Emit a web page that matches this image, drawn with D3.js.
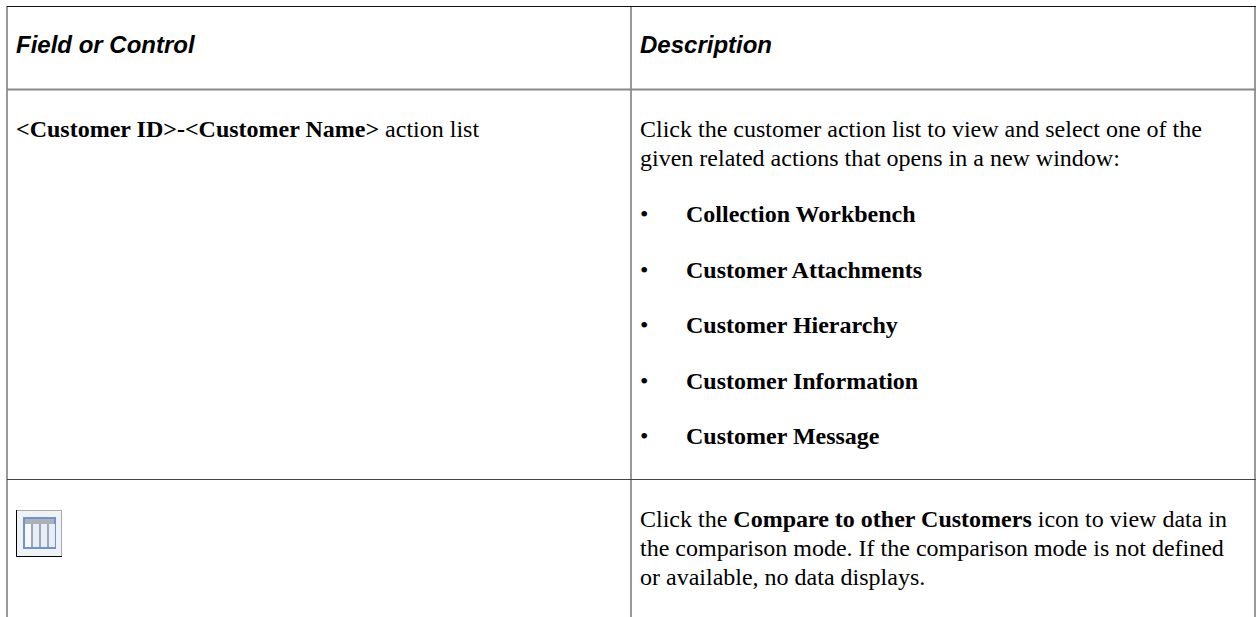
<!DOCTYPE html>
<html>
<head>
<meta charset="utf-8">
<script src="https://cdn.jsdelivr.net/npm/d3@7"></script>
<style>
    html, body { margin: 0; padding: 0; background: #fff; }
    svg { display: block; }
    text { font-family: "Liberation Serif", serif; font-size: 24px; fill: #000; }
    .head { font-family: "Liberation Sans", sans-serif; font-size: 24px; font-weight: bold; font-style: italic; }
</style>
</head>
<body>
<div id="page"></div>
<script>
// each line is a list of [text, bold] runs
const headers = ["Field or Control", "Description"];
const left_lines = [
    [["<Customer ID>-<Customer Name>", true], [" action list", false]]
];
const right_lines_1 = [
    [["Click the customer action list to view and select one of the", false]],
    [["given related actions that opens in a new window:", false]]
];
const bullets = ["Collection Workbench", "Customer Attachments", "Customer Hierarchy", "Customer Information", "Customer Message"];
const right_lines_2 = [
    [["Click the ", false], ["Compare to other Customers", true], [" icon to view data in", false]],
    [["the comparison mode. If the comparison mode is not defined", false]],
    [["or available, no data displays.", false]]
];
const icon_cols = [0, 1, 2, 3];

const svg = d3.select("#page").append("svg")
    .attr("width", 1256)
    .attr("height", 617);

function draw_line(g, runs, x, y) {
    const t = g.append("text").attr("x", x).attr("y", y).attr("xml:space", "preserve");
    runs.forEach(r => {
        t.append("tspan")
            .attr("font-weight", r[1] ? "bold" : "normal")
            .text(r[0]);
    });
}

// table lines
const grid = svg.append("g");
grid.append("rect").attr("x", 6).attr("y", 6).attr("width", 2).attr("height", 611).attr("fill", "#999");
grid.append("rect").attr("x", 630).attr("y", 6).attr("width", 2).attr("height", 611).attr("fill", "#999");
grid.append("rect").attr("x", 1254).attr("y", 6).attr("width", 2).attr("height", 611).attr("fill", "#999");
grid.append("rect").attr("x", 7).attr("y", 6).attr("width", 1249).attr("height", 1).attr("fill", "#111");
grid.append("rect").attr("x", 7).attr("y", 88.5).attr("width", 1249).attr("height", 2).attr("fill", "#888");
grid.append("rect").attr("x", 7).attr("y", 479).attr("width", 1249).attr("height", 1).attr("fill", "#444");

// header
svg.append("g").selectAll("text")
    .data(headers)
    .join("text")
    .attr("class", "head")
    .attr("x", (d, i) => i === 0 ? 16 : 640)
    .attr("y", 53)
    .text(d => d);

const body = svg.append("g");
left_lines.forEach(l => draw_line(body, l, 16, 137));
right_lines_1.forEach((l, i) => draw_line(body, l, 640, 137 + i * 29));

bullets.forEach((b, i) => {
    const y = 222 + i * 55.5;
    body.append("text").attr("x", 640).attr("y", y).text("\u2022");
    body.append("text").attr("x", 686).attr("y", y).attr("font-weight", "bold").text(b);
});

right_lines_2.forEach((l, i) => draw_line(body, l, 640, 527 + i * 29));

// compare icon
const icon = svg.append("g").attr("transform", "translate(16,510)");
icon.append("rect").attr("x", 0.5).attr("y", 0.5).attr("width", 45).attr("height", 46).attr("fill", "#f0f3f6").attr("stroke", "#aaa");
icon.append("path").attr("d", "M0.5 0 V46.5 H46").attr("fill", "none").attr("stroke", "#000");
icon.append("rect").attr("x", 8).attr("y", 8).attr("width", 31).attr("height", 30).attr("fill", "#dfe8f5").attr("stroke", "#6b93d6").attr("stroke-width", 2);

const col_x = d3.scaleBand().domain(icon_cols).range([8, 40]);
icon.selectAll(".col")
    .data(icon_cols)
    .join("rect")
    .attr("class", "col")
    .attr("x", d => col_x(d) + 1)
    .attr("y", 14)
    .attr("width", col_x.bandwidth() - 2)
    .attr("height", 23)
    .attr("fill", d => d === 0 ? "#f6f9ff" : "#e8eef8");
icon.selectAll(".sep")
    .data(icon_cols.slice(1))
    .join("rect")
    .attr("class", "sep")
    .attr("x", d => col_x(d) - 1)
    .attr("y", 14)
    .attr("width", 2)
    .attr("height", 23)
    .attr("fill", "#9fa6b2");
icon.append("rect").attr("x", 9).attr("y", 9).attr("width", 29).attr("height", 5).attr("fill", "#adb0b5");
</script>
</body>
</html>
